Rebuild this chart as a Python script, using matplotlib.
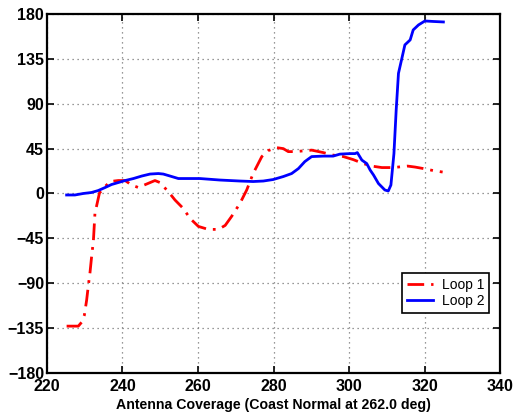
import matplotlib
matplotlib.use('Agg')
import matplotlib.pyplot as plt

plt.rcParams['font.family'] = ['Liberation Sans', 'DejaVu Sans']

# Loop 1 (red, dash-dot)
loop1_x = [225.2, 228.3, 229.2, 229.9, 230.5, 230.9, 231.4, 231.8, 232.3, 232.7,
           233.9, 235.4, 236.7, 238.9, 240.7, 242.4, 244.2, 246.4, 248.6, 249.9,
           252.1, 253.9, 256.1, 257.9, 260.1, 262.7, 265.4, 267.2, 268.9, 271.1,
           272.9, 274.6, 276.9, 278.6, 280.8, 282.6, 283.9, 285.7, 288.8, 290.1,
           293.2, 295.8, 298.5, 301.1, 303.8, 306.0, 308.7, 311.7, 315.5, 317.5,
           319.7, 322.3, 324.8]
loop1_y = [-133, -133, -129, -122, -107, -94, -79, -64, -47, -20,
           0.5, 7, 12, 13, 13, 8.5, 6, 9.5, 13, 11,
           2, -6.5, -15, -25, -33, -36, -36, -32, -23, -10,
           3.5, 20, 37, 43, 46, 45, 42, 42, 43, 43.5,
           41, 38.5, 37, 34, 30, 27.5, 26, 26, 27.5, 26.5,
           25, 23, 21.5]

# Loop 2 (blue, solid)
loop2_x = [225.2, 227.4, 229.6, 231.8, 233.6, 235.4, 237.1, 238.9, 240.7, 242.9,
           245.1, 247.3, 249.5, 250.8, 252.6, 254.8, 260.5, 265.8, 271.1, 274.6,
           277.3, 279.9, 282.6, 284.8, 286.6, 288.3, 290.1, 293.2, 295.8, 297.6,
           300.3, 301.6, 302.2, 303.4, 304.7, 305.6, 306.5, 307.8, 309.5, 310.4,
           311.1, 311.9, 312.5, 313.1, 314.0, 314.8, 316.2, 317.0, 318.4, 320.1,
           322.3, 325.0]
loop2_y = [-1.5, -1.5, 0, 1, 3, 6, 9, 11, 13, 15,
           17.5, 19.5, 20, 19.5, 17.5, 15, 15, 13.5, 12.5, 12,
           12.5, 14, 17, 20, 25, 32, 37, 37.5, 37.5, 39.5,
           40, 40, 41, 33.5, 30, 23.5, 18.5, 10, 3.5, 2.5,
           8.5, 40, 84, 120.5, 135.5, 149, 154, 164, 169, 173,
           172.5, 172]

x_ticks = [220, 240, 260, 280, 300, 320, 340]
y_ticks = [-180, -135, -90, -45, 0, 45, 90, 135, 180]

fig = plt.figure(figsize=(5.13, 4.15), dpi=100)
ax = fig.add_axes([0.0916, 0.1012, 0.8831, 0.8651])

ax.plot(loop1_x, loop1_y, color='red', linestyle=(0, (6, 2.5, 1, 2.5)),
        linewidth=2, label='Loop 1')
ax.plot(loop2_x, loop2_y, color='blue', linestyle='-', linewidth=2, label='Loop 2')

ax.set_xlim(220, 340)
ax.set_ylim(-180, 180)
ax.set_xticks(x_ticks)
ax.set_yticks(y_ticks)
ax.set_yticklabels([str(v).replace('-', '\u2212') for v in y_ticks])
ax.tick_params(direction='in', top=True, right=True, length=5, width=1.2,
               labelsize=11.5, pad=2)
ax.tick_params(axis='x', pad=4)
for lbl in ax.get_xticklabels() + ax.get_yticklabels():
    lbl.set_fontweight('bold')
for sp in ax.spines.values():
    sp.set_linewidth(1.6)
ax.grid(True, linestyle=(0, (1, 3)), color='#777777', linewidth=0.9)

ax.set_xlabel('Antenna Coverage (Coast Normal at 262.0 deg)', fontsize=10.2,
              fontweight='bold', labelpad=3)

leg = ax.legend(loc='lower right', bbox_to_anchor=(0.976, 0.167), fontsize=10,
                fancybox=False, framealpha=1, edgecolor='black',
                borderaxespad=0, handlelength=1.9, handletextpad=0.6,
                borderpad=0.35, labelspacing=0.15)
leg.get_frame().set_linewidth(1.2)

fig.savefig('out.png', dpi=100)
